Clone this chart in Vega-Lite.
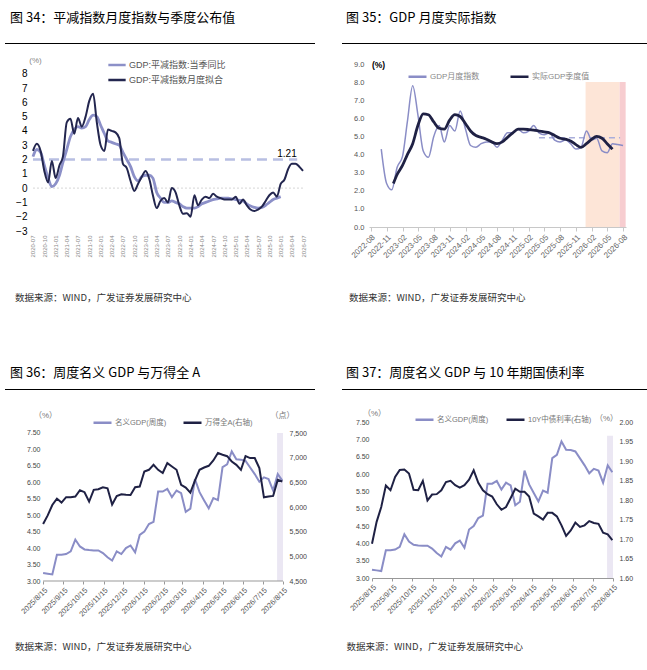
{
"$schema": "https://vega.github.io/schema/vega-lite/v6.json",
"background": "#ffffff",
"padding": {"left": 5, "top": 12, "right": 0, "bottom": 0},
"config": {
  "view": {"stroke": null},
  "font": "Liberation Sans, Noto Sans CJK SC",
  "axis": {"grid": false, "labelOverlap": false, "titleFontWeight": "normal", "labelFont": "Liberation Sans, Noto Sans CJK SC", "titleFont": "Liberation Sans, Noto Sans CJK SC"},
  "legend": {"labelFont": "Liberation Sans, Noto Sans CJK SC"},
  "title": {"font": "Noto Sans CJK SC", "fontWeight": "normal"}
},
"datasets": {
  "l34": [
    {"d":"2020-07-01","s":"GDP:平减指数:当季同比","v":2.2},{"d":"2020-08-01","s":"GDP:平减指数:当季同比","v":2.7},{"d":"2020-09-01","s":"GDP:平减指数:当季同比","v":2.5},{"d":"2020-10-01","s":"GDP:平减指数:当季同比","v":1.6},{"d":"2020-11-01","s":"GDP:平减指数:当季同比","v":0.7},{"d":"2020-12-01","s":"GDP:平减指数:当季同比","v":0.1},
    {"d":"2021-01-01","s":"GDP:平减指数:当季同比","v":0.3},{"d":"2021-02-01","s":"GDP:平减指数:当季同比","v":0.9},{"d":"2021-03-01","s":"GDP:平减指数:当季同比","v":1.8},{"d":"2021-04-01","s":"GDP:平减指数:当季同比","v":2.7},{"d":"2021-05-01","s":"GDP:平减指数:当季同比","v":3.6},{"d":"2021-06-01","s":"GDP:平减指数:当季同比","v":4.1},
    {"d":"2021-07-01","s":"GDP:平减指数:当季同比","v":4.3},{"d":"2021-08-01","s":"GDP:平减指数:当季同比","v":4.2},{"d":"2021-09-01","s":"GDP:平减指数:当季同比","v":4.3},{"d":"2021-10-01","s":"GDP:平减指数:当季同比","v":4.8},{"d":"2021-11-01","s":"GDP:平减指数:当季同比","v":5.1},{"d":"2021-12-01","s":"GDP:平减指数:当季同比","v":5.0},
    {"d":"2022-01-01","s":"GDP:平减指数:当季同比","v":4.4},{"d":"2022-02-01","s":"GDP:平减指数:当季同比","v":3.8},{"d":"2022-03-01","s":"GDP:平减指数:当季同比","v":3.3},{"d":"2022-04-01","s":"GDP:平减指数:当季同比","v":3.2},{"d":"2022-05-01","s":"GDP:平减指数:当季同比","v":3.1},{"d":"2022-06-01","s":"GDP:平减指数:当季同比","v":3.0},
    {"d":"2022-07-01","s":"GDP:平减指数:当季同比","v":2.5},{"d":"2022-08-01","s":"GDP:平减指数:当季同比","v":2.0},{"d":"2022-09-01","s":"GDP:平减指数:当季同比","v":1.5},{"d":"2022-10-01","s":"GDP:平减指数:当季同比","v":0.8},{"d":"2022-11-01","s":"GDP:平减指数:当季同比","v":0.5},{"d":"2022-12-01","s":"GDP:平减指数:当季同比","v":0.8},
    {"d":"2023-01-01","s":"GDP:平减指数:当季同比","v":0.9},{"d":"2023-02-01","s":"GDP:平减指数:当季同比","v":0.9},{"d":"2023-03-01","s":"GDP:平减指数:当季同比","v":0.7},{"d":"2023-04-01","s":"GDP:平减指数:当季同比","v":-0.3},{"d":"2023-05-01","s":"GDP:平减指数:当季同比","v":-0.7},{"d":"2023-06-01","s":"GDP:平减指数:当季同比","v":-1.0},
    {"d":"2023-07-01","s":"GDP:平减指数:当季同比","v":-1.0},{"d":"2023-08-01","s":"GDP:平减指数:当季同比","v":-0.9},{"d":"2023-09-01","s":"GDP:平减指数:当季同比","v":-1.0},{"d":"2023-10-01","s":"GDP:平减指数:当季同比","v":-1.1},{"d":"2023-11-01","s":"GDP:平减指数:当季同比","v":-1.3},{"d":"2023-12-01","s":"GDP:平减指数:当季同比","v":-1.4},
    {"d":"2024-01-01","s":"GDP:平减指数:当季同比","v":-1.4},{"d":"2024-02-01","s":"GDP:平减指数:当季同比","v":-1.4},{"d":"2024-03-01","s":"GDP:平减指数:当季同比","v":-1.3},{"d":"2024-04-01","s":"GDP:平减指数:当季同比","v":-1.1},{"d":"2024-05-01","s":"GDP:平减指数:当季同比","v":-1.0},{"d":"2024-06-01","s":"GDP:平减指数:当季同比","v":-0.9},
    {"d":"2024-07-01","s":"GDP:平减指数:当季同比","v":-0.8},{"d":"2024-08-01","s":"GDP:平减指数:当季同比","v":-0.75},{"d":"2024-09-01","s":"GDP:平减指数:当季同比","v":-0.7},{"d":"2024-10-01","s":"GDP:平减指数:当季同比","v":-0.7},{"d":"2024-11-01","s":"GDP:平减指数:当季同比","v":-0.7},{"d":"2024-12-01","s":"GDP:平减指数:当季同比","v":-0.75},
    {"d":"2025-01-01","s":"GDP:平减指数:当季同比","v":-0.8},{"d":"2025-02-01","s":"GDP:平减指数:当季同比","v":-0.85},{"d":"2025-03-01","s":"GDP:平减指数:当季同比","v":-0.9},{"d":"2025-04-01","s":"GDP:平减指数:当季同比","v":-1.1},{"d":"2025-05-01","s":"GDP:平减指数:当季同比","v":-1.25},{"d":"2025-06-01","s":"GDP:平减指数:当季同比","v":-1.35},
    {"d":"2025-07-01","s":"GDP:平减指数:当季同比","v":-1.4},{"d":"2025-08-01","s":"GDP:平减指数:当季同比","v":-1.35},{"d":"2025-09-01","s":"GDP:平减指数:当季同比","v":-1.2},{"d":"2025-10-01","s":"GDP:平减指数:当季同比","v":-1.0},{"d":"2025-11-01","s":"GDP:平减指数:当季同比","v":-0.8},{"d":"2025-12-01","s":"GDP:平减指数:当季同比","v":-0.7},
    {"d":"2026-01-01","s":"GDP:平减指数:当季同比","v":-0.6}
  ],
  "d34": [
    {"d":"2020-07-01","s":"GDP:平减指数月度拟合","v":2.6},{"d":"2020-08-01","s":"GDP:平减指数月度拟合","v":3.1},{"d":"2020-09-01","s":"GDP:平减指数月度拟合","v":2.6},{"d":"2020-10-01","s":"GDP:平减指数月度拟合","v":1.2},{"d":"2020-11-01","s":"GDP:平减指数月度拟合","v":0.4},{"d":"2020-12-01","s":"GDP:平减指数月度拟合","v":1.9},
    {"d":"2021-01-01","s":"GDP:平减指数月度拟合","v":0.7},{"d":"2021-02-01","s":"GDP:平减指数月度拟合","v":1.6},{"d":"2021-03-01","s":"GDP:平减指数月度拟合","v":2.2},{"d":"2021-04-01","s":"GDP:平减指数月度拟合","v":4.6},{"d":"2021-05-01","s":"GDP:平减指数月度拟合","v":4.85},{"d":"2021-06-01","s":"GDP:平减指数月度拟合","v":3.8},
    {"d":"2021-07-01","s":"GDP:平减指数月度拟合","v":4.9},{"d":"2021-08-01","s":"GDP:平减指数月度拟合","v":4.3},{"d":"2021-09-01","s":"GDP:平减指数月度拟合","v":5.0},{"d":"2021-10-01","s":"GDP:平减指数月度拟合","v":6.1},{"d":"2021-11-01","s":"GDP:平减指数月度拟合","v":6.6},{"d":"2021-12-01","s":"GDP:平减指数月度拟合","v":4.6},
    {"d":"2022-01-01","s":"GDP:平减指数月度拟合","v":3.0},{"d":"2022-02-01","s":"GDP:平减指数月度拟合","v":2.6},{"d":"2022-03-01","s":"GDP:平减指数月度拟合","v":4.1},{"d":"2022-04-01","s":"GDP:平减指数月度拟合","v":4.0},{"d":"2022-05-01","s":"GDP:平减指数月度拟合","v":3.9},{"d":"2022-06-01","s":"GDP:平减指数月度拟合","v":3.5},
    {"d":"2022-07-01","s":"GDP:平减指数月度拟合","v":1.7},{"d":"2022-08-01","s":"GDP:平减指数月度拟合","v":1.4},{"d":"2022-09-01","s":"GDP:平减指数月度拟合","v":0.5},{"d":"2022-10-01","s":"GDP:平减指数月度拟合","v":-0.2},{"d":"2022-11-01","s":"GDP:平减指数月度拟合","v":0.3},{"d":"2022-12-01","s":"GDP:平减指数月度拟合","v":0.8},
    {"d":"2023-01-01","s":"GDP:平减指数月度拟合","v":1.2},{"d":"2023-02-01","s":"GDP:平减指数月度拟合","v":0.6},{"d":"2023-03-01","s":"GDP:平减指数月度拟合","v":-0.5},{"d":"2023-04-01","s":"GDP:平减指数月度拟合","v":-1.4},{"d":"2023-05-01","s":"GDP:平减指数月度拟合","v":-0.9},{"d":"2023-06-01","s":"GDP:平减指数月度拟合","v":-0.7},
    {"d":"2023-07-01","s":"GDP:平减指数月度拟合","v":-1.0},{"d":"2023-08-01","s":"GDP:平减指数月度拟合","v":0.0},{"d":"2023-09-01","s":"GDP:平减指数月度拟合","v":-0.3},{"d":"2023-10-01","s":"GDP:平减指数月度拟合","v":-1.2},{"d":"2023-11-01","s":"GDP:平减指数月度拟合","v":-1.8},{"d":"2023-12-01","s":"GDP:平减指数月度拟合","v":-1.75},
    {"d":"2024-01-01","s":"GDP:平减指数月度拟合","v":-2.0},{"d":"2024-02-01","s":"GDP:平减指数月度拟合","v":-0.5},{"d":"2024-03-01","s":"GDP:平减指数月度拟合","v":-1.2},{"d":"2024-04-01","s":"GDP:平减指数月度拟合","v":-0.8},{"d":"2024-05-01","s":"GDP:平减指数月度拟合","v":-0.6},{"d":"2024-06-01","s":"GDP:平减指数月度拟合","v":-0.7},
    {"d":"2024-07-01","s":"GDP:平减指数月度拟合","v":-0.4},{"d":"2024-08-01","s":"GDP:平减指数月度拟合","v":-0.6},{"d":"2024-09-01","s":"GDP:平减指数月度拟合","v":-0.7},{"d":"2024-10-01","s":"GDP:平减指数月度拟合","v":-0.8},{"d":"2024-11-01","s":"GDP:平减指数月度拟合","v":-0.8},{"d":"2024-12-01","s":"GDP:平减指数月度拟合","v":-0.8},
    {"d":"2025-01-01","s":"GDP:平减指数月度拟合","v":-0.6},{"d":"2025-02-01","s":"GDP:平减指数月度拟合","v":-1.1},{"d":"2025-03-01","s":"GDP:平减指数月度拟合","v":-0.8},{"d":"2025-04-01","s":"GDP:平减指数月度拟合","v":-1.2},{"d":"2025-05-01","s":"GDP:平减指数月度拟合","v":-1.5},{"d":"2025-06-01","s":"GDP:平减指数月度拟合","v":-1.6},
    {"d":"2025-07-01","s":"GDP:平减指数月度拟合","v":-1.5},{"d":"2025-08-01","s":"GDP:平减指数月度拟合","v":-1.3},{"d":"2025-09-01","s":"GDP:平减指数月度拟合","v":-0.9},{"d":"2025-10-01","s":"GDP:平减指数月度拟合","v":-0.5},{"d":"2025-11-01","s":"GDP:平减指数月度拟合","v":-0.3},{"d":"2025-12-01","s":"GDP:平减指数月度拟合","v":-0.6},
    {"d":"2026-01-01","s":"GDP:平减指数月度拟合","v":0.3},{"d":"2026-02-01","s":"GDP:平减指数月度拟合","v":0.6},{"d":"2026-03-01","s":"GDP:平减指数月度拟合","v":1.3},{"d":"2026-04-01","s":"GDP:平减指数月度拟合","v":1.7},{"d":"2026-05-01","s":"GDP:平减指数月度拟合","v":1.7},{"d":"2026-06-01","s":"GDP:平减指数月度拟合","v":1.5},
    {"d":"2026-07-01","s":"GDP:平减指数月度拟合","v":1.21}
  ],
  "l35": [
    {"d":"2022-10-01","s":"GDP月度指数","v":4.3},{"d":"2022-11-01","s":"GDP月度指数","v":2.4},{"d":"2022-12-01","s":"GDP月度指数","v":2.05},
    {"d":"2023-01-01","s":"GDP月度指数","v":3.3},{"d":"2023-02-01","s":"GDP月度指数","v":3.9},{"d":"2023-03-01","s":"GDP月度指数","v":5.8},{"d":"2023-04-01","s":"GDP月度指数","v":7.8},{"d":"2023-05-01","s":"GDP月度指数","v":6.2},{"d":"2023-06-01","s":"GDP月度指数","v":4.2},
    {"d":"2023-07-01","s":"GDP月度指数","v":3.85},{"d":"2023-08-01","s":"GDP月度指数","v":5.0},{"d":"2023-09-01","s":"GDP月度指数","v":5.6},{"d":"2023-10-01","s":"GDP月度指数","v":4.7},{"d":"2023-11-01","s":"GDP月度指数","v":5.6},{"d":"2023-12-01","s":"GDP月度指数","v":5.3},
    {"d":"2024-01-01","s":"GDP月度指数","v":6.4},{"d":"2024-02-01","s":"GDP月度指数","v":5.4},{"d":"2024-03-01","s":"GDP月度指数","v":4.5},{"d":"2024-04-01","s":"GDP月度指数","v":4.4},{"d":"2024-05-01","s":"GDP月度指数","v":4.6},{"d":"2024-06-01","s":"GDP月度指数","v":4.7},
    {"d":"2024-07-01","s":"GDP月度指数","v":4.7},{"d":"2024-08-01","s":"GDP月度指数","v":4.4},{"d":"2024-09-01","s":"GDP月度指数","v":4.8},{"d":"2024-10-01","s":"GDP月度指数","v":5.2},{"d":"2024-11-01","s":"GDP月度指数","v":5.2},{"d":"2024-12-01","s":"GDP月度指数","v":5.4},
    {"d":"2025-01-01","s":"GDP月度指数","v":5.2},{"d":"2025-02-01","s":"GDP月度指数","v":5.3},{"d":"2025-03-01","s":"GDP月度指数","v":5.6},{"d":"2025-04-01","s":"GDP月度指数","v":5.2},{"d":"2025-05-01","s":"GDP月度指数","v":5.1},{"d":"2025-06-01","s":"GDP月度指数","v":5.2},
    {"d":"2025-07-01","s":"GDP月度指数","v":4.8},{"d":"2025-08-01","s":"GDP月度指数","v":4.7},{"d":"2025-09-01","s":"GDP月度指数","v":4.8},{"d":"2025-10-01","s":"GDP月度指数","v":4.6},{"d":"2025-11-01","s":"GDP月度指数","v":4.3},{"d":"2025-12-01","s":"GDP月度指数","v":4.4},
    {"d":"2026-01-01","s":"GDP月度指数","v":5.3},{"d":"2026-02-01","s":"GDP月度指数","v":4.8},{"d":"2026-03-01","s":"GDP月度指数","v":4.9},{"d":"2026-04-01","s":"GDP月度指数","v":4.2},{"d":"2026-05-01","s":"GDP月度指数","v":4.1},{"d":"2026-06-01","s":"GDP月度指数","v":4.6},
    {"d":"2026-07-01","s":"GDP月度指数","v":4.55},{"d":"2026-08-01","s":"GDP月度指数","v":4.5}
  ],
  "d35": [
    {"d":"2022-12-10","s":"实际GDP季度值","v":2.4},
    {"d":"2023-01-01","s":"实际GDP季度值","v":2.9},{"d":"2023-02-01","s":"实际GDP季度值","v":3.4},{"d":"2023-03-01","s":"实际GDP季度值","v":4.0},{"d":"2023-04-01","s":"实际GDP季度值","v":4.6},{"d":"2023-05-01","s":"实际GDP季度值","v":5.6},{"d":"2023-06-01","s":"实际GDP季度值","v":6.25},
    {"d":"2023-07-01","s":"实际GDP季度值","v":6.2},{"d":"2023-08-01","s":"实际GDP季度值","v":5.8},{"d":"2023-09-01","s":"实际GDP季度值","v":5.45},{"d":"2023-10-01","s":"实际GDP季度值","v":5.4},{"d":"2023-11-01","s":"实际GDP季度值","v":5.9},{"d":"2023-12-01","s":"实际GDP季度值","v":6.2},
    {"d":"2024-01-01","s":"实际GDP季度值","v":6.1},{"d":"2024-02-01","s":"实际GDP季度值","v":5.7},{"d":"2024-03-01","s":"实际GDP季度值","v":5.3},{"d":"2024-04-01","s":"实际GDP季度值","v":5.05},{"d":"2024-05-01","s":"实际GDP季度值","v":4.95},{"d":"2024-06-01","s":"实际GDP季度值","v":4.85},
    {"d":"2024-07-01","s":"实际GDP季度值","v":4.7},{"d":"2024-08-01","s":"实际GDP季度值","v":4.6},{"d":"2024-09-01","s":"实际GDP季度值","v":4.7},{"d":"2024-10-01","s":"实际GDP季度值","v":4.95},{"d":"2024-11-01","s":"实际GDP季度值","v":5.2},{"d":"2024-12-01","s":"实际GDP季度值","v":5.4},
    {"d":"2025-01-01","s":"实际GDP季度值","v":5.4},{"d":"2025-02-01","s":"实际GDP季度值","v":5.38},{"d":"2025-03-01","s":"实际GDP季度值","v":5.35},{"d":"2025-04-01","s":"实际GDP季度值","v":5.3},{"d":"2025-05-01","s":"实际GDP季度值","v":5.25},{"d":"2025-06-01","s":"实际GDP季度值","v":5.2},
    {"d":"2025-07-01","s":"实际GDP季度值","v":5.05},{"d":"2025-08-01","s":"实际GDP季度值","v":4.9},{"d":"2025-09-01","s":"实际GDP季度值","v":4.85},{"d":"2025-10-01","s":"实际GDP季度值","v":4.75},{"d":"2025-11-01","s":"实际GDP季度值","v":4.55},{"d":"2025-12-01","s":"实际GDP季度值","v":4.4},
    {"d":"2026-01-01","s":"实际GDP季度值","v":4.6},{"d":"2026-02-01","s":"实际GDP季度值","v":4.85},{"d":"2026-03-01","s":"实际GDP季度值","v":5.0},{"d":"2026-04-01","s":"实际GDP季度值","v":4.9},{"d":"2026-05-01","s":"实际GDP季度值","v":4.6},{"d":"2026-06-01","s":"实际GDP季度值","v":4.3}
  ],
  "gdpw": [
    {"d":"2025-08-15","s":"名义GDP(周度)","v":3.24},{"d":"2025-08-22","s":"名义GDP(周度)","v":3.22},{"d":"2025-08-29","s":"名义GDP(周度)","v":3.2},{"d":"2025-09-05","s":"名义GDP(周度)","v":3.8},{"d":"2025-09-12","s":"名义GDP(周度)","v":3.8},{"d":"2025-09-19","s":"名义GDP(周度)","v":3.82},
    {"d":"2025-09-26","s":"名义GDP(周度)","v":3.9},{"d":"2025-10-03","s":"名义GDP(周度)","v":4.26},{"d":"2025-10-10","s":"名义GDP(周度)","v":4.05},{"d":"2025-10-17","s":"名义GDP(周度)","v":3.96},{"d":"2025-10-24","s":"名义GDP(周度)","v":3.94},{"d":"2025-10-31","s":"名义GDP(周度)","v":3.93},
    {"d":"2025-11-07","s":"名义GDP(周度)","v":3.93},{"d":"2025-11-14","s":"名义GDP(周度)","v":3.85},{"d":"2025-11-21","s":"名义GDP(周度)","v":3.72},{"d":"2025-11-28","s":"名义GDP(周度)","v":3.62},{"d":"2025-12-05","s":"名义GDP(周度)","v":3.9},{"d":"2025-12-12","s":"名义GDP(周度)","v":3.82},
    {"d":"2025-12-19","s":"名义GDP(周度)","v":4.0},{"d":"2025-12-26","s":"名义GDP(周度)","v":4.08},{"d":"2026-01-02","s":"名义GDP(周度)","v":3.87},{"d":"2026-01-09","s":"名义GDP(周度)","v":4.4},{"d":"2026-01-16","s":"名义GDP(周度)","v":4.5},{"d":"2026-01-23","s":"名义GDP(周度)","v":4.73},
    {"d":"2026-01-30","s":"名义GDP(周度)","v":4.8},{"d":"2026-02-06","s":"名义GDP(周度)","v":5.72},{"d":"2026-02-13","s":"名义GDP(周度)","v":5.72},{"d":"2026-02-20","s":"名义GDP(周度)","v":5.8},{"d":"2026-02-27","s":"名义GDP(周度)","v":5.55},{"d":"2026-03-06","s":"名义GDP(周度)","v":5.75},
    {"d":"2026-03-13","s":"名义GDP(周度)","v":5.67},{"d":"2026-03-20","s":"名义GDP(周度)","v":5.1},{"d":"2026-03-27","s":"名义GDP(周度)","v":5.2},{"d":"2026-04-03","s":"名义GDP(周度)","v":6.1},{"d":"2026-04-10","s":"名义GDP(周度)","v":5.7},{"d":"2026-04-17","s":"名义GDP(周度)","v":5.45},
    {"d":"2026-04-24","s":"名义GDP(周度)","v":5.21},{"d":"2026-05-01","s":"名义GDP(周度)","v":5.52},{"d":"2026-05-08","s":"名义GDP(周度)","v":5.46},{"d":"2026-05-15","s":"名义GDP(周度)","v":6.46},{"d":"2026-05-22","s":"名义GDP(周度)","v":6.55},{"d":"2026-05-29","s":"名义GDP(周度)","v":6.94},
    {"d":"2026-06-05","s":"名义GDP(周度)","v":6.7},{"d":"2026-06-12","s":"名义GDP(周度)","v":6.69},{"d":"2026-06-19","s":"名义GDP(周度)","v":6.65},{"d":"2026-06-26","s":"名义GDP(周度)","v":6.45},{"d":"2026-07-03","s":"名义GDP(周度)","v":6.25},{"d":"2026-07-10","s":"名义GDP(周度)","v":6.02},
    {"d":"2026-07-17","s":"名义GDP(周度)","v":6.15},{"d":"2026-07-24","s":"名义GDP(周度)","v":6.1},{"d":"2026-07-31","s":"名义GDP(周度)","v":5.75},{"d":"2026-08-07","s":"名义GDP(周度)","v":6.25},{"d":"2026-08-14","s":"名义GDP(周度)","v":6.05}
  ],
  "wind": [
    {"d":"2025-08-15","s":"万得全A(右轴)","v":5654},{"d":"2025-08-22","s":"万得全A(右轴)","v":5830},{"d":"2025-08-29","s":"万得全A(右轴)","v":6041},{"d":"2025-09-05","s":"万得全A(右轴)","v":6170},{"d":"2025-09-12","s":"万得全A(右轴)","v":6090},{"d":"2025-09-19","s":"万得全A(右轴)","v":6200},
    {"d":"2025-09-26","s":"万得全A(右轴)","v":6200},{"d":"2025-10-03","s":"万得全A(右轴)","v":6211},{"d":"2025-10-10","s":"万得全A(右轴)","v":6340},{"d":"2025-10-17","s":"万得全A(右轴)","v":6300},{"d":"2025-10-24","s":"万得全A(右轴)","v":6110},{"d":"2025-10-31","s":"万得全A(右轴)","v":6347},
    {"d":"2025-11-07","s":"万得全A(右轴)","v":6360},{"d":"2025-11-14","s":"万得全A(右轴)","v":6400},{"d":"2025-11-21","s":"万得全A(右轴)","v":6380},{"d":"2025-11-28","s":"万得全A(右轴)","v":6050},{"d":"2025-12-05","s":"万得全A(右轴)","v":6224},{"d":"2025-12-12","s":"万得全A(右轴)","v":6258},
    {"d":"2025-12-19","s":"万得全A(右轴)","v":6250},{"d":"2025-12-26","s":"万得全A(右轴)","v":6245},{"d":"2026-01-02","s":"万得全A(右轴)","v":6401},{"d":"2026-01-09","s":"万得全A(右轴)","v":6414},{"d":"2026-01-16","s":"万得全A(右轴)","v":6720},{"d":"2026-01-23","s":"万得全A(右轴)","v":6754},
    {"d":"2026-01-30","s":"万得全A(右轴)","v":6855},{"d":"2026-02-06","s":"万得全A(右轴)","v":6754},{"d":"2026-02-13","s":"万得全A(右轴)","v":6690},{"d":"2026-02-20","s":"万得全A(右轴)","v":6889},{"d":"2026-02-27","s":"万得全A(右轴)","v":6821},{"d":"2026-03-06","s":"万得全A(右轴)","v":6754},
    {"d":"2026-03-13","s":"万得全A(右轴)","v":6448},{"d":"2026-03-20","s":"万得全A(右轴)","v":6394},{"d":"2026-03-27","s":"万得全A(右轴)","v":6292},{"d":"2026-04-03","s":"万得全A(右轴)","v":6536},{"d":"2026-04-10","s":"万得全A(右轴)","v":6754},{"d":"2026-04-17","s":"万得全A(右轴)","v":6801},
    {"d":"2026-04-24","s":"万得全A(右轴)","v":6835},{"d":"2026-05-01","s":"万得全A(右轴)","v":6944},{"d":"2026-05-08","s":"万得全A(右轴)","v":7093},{"d":"2026-05-15","s":"万得全A(右轴)","v":7059},{"d":"2026-05-22","s":"万得全A(右轴)","v":7030},{"d":"2026-05-29","s":"万得全A(右轴)","v":6923},
    {"d":"2026-06-05","s":"万得全A(右轴)","v":6855},{"d":"2026-06-12","s":"万得全A(右轴)","v":6754},{"d":"2026-06-19","s":"万得全A(右轴)","v":7030},{"d":"2026-06-26","s":"万得全A(右轴)","v":6991},{"d":"2026-07-03","s":"万得全A(右轴)","v":6991},{"d":"2026-07-10","s":"万得全A(右轴)","v":6788},
    {"d":"2026-07-17","s":"万得全A(右轴)","v":6197},{"d":"2026-07-24","s":"万得全A(右轴)","v":6211},{"d":"2026-07-31","s":"万得全A(右轴)","v":6224},{"d":"2026-08-07","s":"万得全A(右轴)","v":6550},{"d":"2026-08-14","s":"万得全A(右轴)","v":6516}
  ],
  "bond": [
    {"d":"2025-08-15","s":"10Y中债利率(右轴)","v":1.688},{"d":"2025-08-22","s":"10Y中债利率(右轴)","v":1.744},{"d":"2025-08-29","s":"10Y中债利率(右轴)","v":1.782},{"d":"2025-09-05","s":"10Y中债利率(右轴)","v":1.837},{"d":"2025-09-12","s":"10Y中债利率(右轴)","v":1.825},{"d":"2025-09-19","s":"10Y中债利率(右轴)","v":1.859},
    {"d":"2025-09-26","s":"10Y中债利率(右轴)","v":1.877},{"d":"2025-10-03","s":"10Y中债利率(右轴)","v":1.878},{"d":"2025-10-10","s":"10Y中债利率(右轴)","v":1.868},{"d":"2025-10-17","s":"10Y中债利率(右轴)","v":1.826},{"d":"2025-10-24","s":"10Y中债利率(右轴)","v":1.825},{"d":"2025-10-31","s":"10Y中债利率(右轴)","v":1.849},
    {"d":"2025-11-07","s":"10Y中债利率(右轴)","v":1.799},{"d":"2025-11-14","s":"10Y中债利率(右轴)","v":1.814},{"d":"2025-11-21","s":"10Y中债利率(右轴)","v":1.815},{"d":"2025-11-28","s":"10Y中债利率(右轴)","v":1.825},{"d":"2025-12-05","s":"10Y中债利率(右轴)","v":1.846},{"d":"2025-12-12","s":"10Y中债利率(右轴)","v":1.849},
    {"d":"2025-12-19","s":"10Y中债利率(右轴)","v":1.838},{"d":"2025-12-26","s":"10Y中债利率(右轴)","v":1.832},{"d":"2026-01-02","s":"10Y中债利率(右轴)","v":1.838},{"d":"2026-01-09","s":"10Y中债利率(右轴)","v":1.852},{"d":"2026-01-16","s":"10Y中债利率(右轴)","v":1.876},{"d":"2026-01-23","s":"10Y中债利率(右轴)","v":1.844},
    {"d":"2026-01-30","s":"10Y中债利率(右轴)","v":1.825},{"d":"2026-02-06","s":"10Y中债利率(右轴)","v":1.815},{"d":"2026-02-13","s":"10Y中债利率(右轴)","v":1.809},{"d":"2026-02-20","s":"10Y中债利率(右轴)","v":1.789},{"d":"2026-02-27","s":"10Y中债利率(右轴)","v":1.775},{"d":"2026-03-06","s":"10Y中债利率(右轴)","v":1.782},
    {"d":"2026-03-13","s":"10Y中债利率(右轴)","v":1.805},{"d":"2026-03-20","s":"10Y中债利率(右轴)","v":1.829},{"d":"2026-03-27","s":"10Y中债利率(右轴)","v":1.821},{"d":"2026-04-03","s":"10Y中债利率(右轴)","v":1.821},{"d":"2026-04-10","s":"10Y中债利率(右轴)","v":1.809},{"d":"2026-04-17","s":"10Y中债利率(右轴)","v":1.765},
    {"d":"2026-04-24","s":"10Y中债利率(右轴)","v":1.758},{"d":"2026-05-01","s":"10Y中债利率(右轴)","v":1.750},{"d":"2026-05-08","s":"10Y中债利率(右轴)","v":1.767},{"d":"2026-05-15","s":"10Y中债利率(右轴)","v":1.767},{"d":"2026-05-22","s":"10Y中债利率(右轴)","v":1.758},{"d":"2026-05-29","s":"10Y中债利率(右轴)","v":1.735},
    {"d":"2026-06-05","s":"10Y中债利率(右轴)","v":1.708},{"d":"2026-06-12","s":"10Y中债利率(右轴)","v":1.722},{"d":"2026-06-19","s":"10Y中债利率(右轴)","v":1.742},{"d":"2026-06-26","s":"10Y中债利率(右轴)","v":1.731},{"d":"2026-07-03","s":"10Y中债利率(右轴)","v":1.735},{"d":"2026-07-10","s":"10Y中债利率(右轴)","v":1.746},
    {"d":"2026-07-17","s":"10Y中债利率(右轴)","v":1.741},{"d":"2026-07-24","s":"10Y中债利率(右轴)","v":1.739},{"d":"2026-07-31","s":"10Y中债利率(右轴)","v":1.716},{"d":"2026-08-07","s":"10Y中债利率(右轴)","v":1.712},{"d":"2026-08-14","s":"10Y中债利率(右轴)","v":1.697}
  ]
},
"spacing": 64,
"resolve": {"scale": {"color": "independent"}, "legend": {"color": "independent"}},
"vconcat": [
 {"spacing": 11, "resolve": {"scale": {"color": "independent"}, "legend": {"color": "independent"}}, "vconcat": [
  {"spacing": 27, "hconcat": [
    {"width": 310, "height": 1, "data": {"values": []}, "mark": "point", "view": {"fill": "#000000", "stroke": null},
     "title": {"text": "图 34：平减指数月度指数与季度公布值", "anchor": "start", "frame": "group", "dx": 5, "offset": 18, "fontSize": 13, "color": "#000000"}},
    {"width": 305, "height": 1, "data": {"values": []}, "mark": "point", "view": {"fill": "#000000", "stroke": null},
     "title": {"text": "图 35：GDP 月度实际指数", "anchor": "start", "frame": "group", "dx": 4, "offset": 18, "fontSize": 13, "color": "#000000"}}
  ]},
  {"spacing": 41, "resolve": {"scale": {"color": "independent"}, "legend": {"color": "independent"}}, "hconcat": [
    {"width": 298, "height": 167,
     "title": {"text": "数据来源：WIND，广发证券发展研究中心", "orient": "bottom", "anchor": "start", "frame": "group", "offset": 36, "dx": 10, "fontSize": 9.5, "color": "#333333", "font": "Noto Sans CJK SC"},
     "encoding": {
       "x": {"field": "d", "type": "temporal", "scale": {"type": "utc", "domain": [{"year": 2019, "month": 11, "date": 17, "utc": true}, {"year": 2026, "month": 7, "date": 1, "utc": true}]},
         "axis": {"values": [
           {"year":2020,"month":7,"date":1,"utc":true},{"year":2020,"month":10,"date":1,"utc":true},
           {"year":2021,"month":1,"date":1,"utc":true},{"year":2021,"month":4,"date":1,"utc":true},{"year":2021,"month":7,"date":1,"utc":true},{"year":2021,"month":10,"date":1,"utc":true},
           {"year":2022,"month":1,"date":1,"utc":true},{"year":2022,"month":4,"date":1,"utc":true},{"year":2022,"month":7,"date":1,"utc":true},{"year":2022,"month":10,"date":1,"utc":true},
           {"year":2023,"month":1,"date":1,"utc":true},{"year":2023,"month":4,"date":1,"utc":true},{"year":2023,"month":7,"date":1,"utc":true},{"year":2023,"month":10,"date":1,"utc":true},
           {"year":2024,"month":1,"date":1,"utc":true},{"year":2024,"month":4,"date":1,"utc":true},{"year":2024,"month":7,"date":1,"utc":true},{"year":2024,"month":10,"date":1,"utc":true},
           {"year":2025,"month":1,"date":1,"utc":true},{"year":2025,"month":4,"date":1,"utc":true},{"year":2025,"month":7,"date":1,"utc":true},{"year":2025,"month":10,"date":1,"utc":true},
           {"year":2026,"month":1,"date":1,"utc":true},{"year":2026,"month":4,"date":1,"utc":true},{"year":2026,"month":7,"date":1,"utc":true}],
           "format": "%Y-%m", "labelAngle": -90, "labelFontSize": 6, "labelColor": "#888888", "domain": false, "ticks": false, "labelPadding": 4, "title": null, "labelOverlap": false}},
       "y": {"field": "v", "type": "quantitative", "scale": {"domain": [-3, 8.68], "nice": false, "zero": false},
         "axis": {"values": [-3,-2,-1,0,1,2,3,4,5,6,7,8], "format": "d", "offset": -28, "labelFontSize": 10, "labelColor": "#000000", "domain": false, "ticks": false, "labelPadding": 6, "labelOverlap": false,
                  "title": "(%)", "titleAngle": 0, "titleX": 2, "titleY": -4, "titleAlign": "center", "titleBaseline": "middle", "titleFontSize": 8, "titleColor": "#888888"}}
     },
     "layer": [
      {"data": {"values": [{"d": "2020-07-01", "v": 0}, {"d": "2026-07-01", "v": 0}]}, "mark": {"type": "line", "color": "#d6d6d6", "strokeWidth": 1, "strokeDash": [2, 2]}},
      {"data": {"values": [{"d": "2020-07-01", "v": 2}, {"d": "2026-05-15", "v": 2}]}, "mark": {"type": "line", "color": "#b8bfe2", "strokeWidth": 2.5, "strokeDash": [10, 6]}},
      {"data": {"name": "l34"}, "mark": {"type": "line", "strokeWidth": 2.8, "interpolate": "monotone"},
       "encoding": {
         "color": {"field": "s", "type": "nominal", "scale": {"domain": ["GDP:平减指数:当季同比", "GDP:平减指数月度拟合"], "range": ["#8c90c8", "#23264f"]},
           "legend": {"orient": "none", "legendX": 102, "legendY": -9, "direction": "vertical", "title": null, "symbolType": "stroke", "symbolStrokeWidth": 2.5, "symbolSize": 300, "labelFontSize": 9, "labelColor": "#555555", "rowPadding": 0, "labelOffset": 2}}}},
      {"data": {"name": "d34"}, "mark": {"type": "line", "strokeWidth": 2, "interpolate": "monotone"},
       "encoding": {"color": {"field": "s", "type": "nominal"}}},
      {"data": {"values": [{"d": "2026-07-01", "v": 1.21, "t": "1.21"}]}, "mark": {"type": "text", "dx": -16, "dy": -17, "fontSize": 10, "color": "#000000"},
       "encoding": {"text": {"field": "t"}}}
     ]},
    {"width": 257, "height": 163,
     "title": {"text": "数据来源：WIND，广发证券发展研究中心", "orient": "bottom", "anchor": "start", "frame": "bounds", "offset": 34, "dx": -1, "fontSize": 9.5, "color": "#333333", "font": "Noto Sans CJK SC"},
     "encoding": {
       "x": {"field": "d", "type": "temporal", "scale": {"type": "utc", "domain": [{"year": 2022, "month": 7, "date": 22, "utc": true}, {"year": 2026, "month": 8, "date": 18, "utc": true}]},
         "axis": {"values": [
           {"year":2022,"month":8,"date":1,"utc":true},{"year":2022,"month":11,"date":1,"utc":true},
           {"year":2023,"month":2,"date":1,"utc":true},{"year":2023,"month":5,"date":1,"utc":true},{"year":2023,"month":8,"date":1,"utc":true},{"year":2023,"month":11,"date":1,"utc":true},
           {"year":2024,"month":2,"date":1,"utc":true},{"year":2024,"month":5,"date":1,"utc":true},{"year":2024,"month":8,"date":1,"utc":true},{"year":2024,"month":11,"date":1,"utc":true},
           {"year":2025,"month":2,"date":1,"utc":true},{"year":2025,"month":5,"date":1,"utc":true},{"year":2025,"month":8,"date":1,"utc":true},{"year":2025,"month":11,"date":1,"utc":true},
           {"year":2026,"month":2,"date":1,"utc":true},{"year":2026,"month":5,"date":1,"utc":true},{"year":2026,"month":8,"date":1,"utc":true}],
           "format": "%Y-%m", "labelAngle": -45, "labelFontSize": 8, "labelColor": "#666666", "domainColor": "#c8c8c8", "tickColor": "#c8c8c8", "tickSize": 4, "title": null, "labelOverlap": false}},
       "y": {"field": "v", "type": "quantitative", "scale": {"domain": [0, 9], "nice": false},
         "axis": {"values": [0,1,2,3,4,5,6,7,8,9], "format": ".1f", "labelFontSize": 7.5, "labelColor": "#555555", "domain": false, "ticks": false, "labelPadding": 5, "labelOverlap": false,
                  "title": "(%)", "titleAngle": 0, "titleX": 9, "titleY": 0, "titleAlign": "center", "titleBaseline": "middle", "titleFontSize": 8.5, "titleColor": "#000000", "titleFontWeight": "bold"}}
     },
     "layer": [
      {"data": {"values": [{"d": "2025-12-27", "d2": "2026-07-12", "v": 0, "v2": 8}]}, "mark": {"type": "rect", "color": "#fde5d7"},
       "encoding": {"x2": {"field": "d2"}, "y2": {"field": "v2"}}},
      {"data": {"values": [{"d": "2026-07-12", "d2": "2026-08-16", "v": 0, "v2": 8}]}, "mark": {"type": "rect", "color": "#f7cdd0"},
       "encoding": {"x2": {"field": "d2"}, "y2": {"field": "v2"}}},
      {"data": {"values": [{"d": "2025-04-01", "v": 4.93}, {"d": "2026-07-15", "v": 4.93}]}, "mark": {"type": "line", "color": "#a9aedb", "strokeWidth": 1.5, "strokeDash": [6, 4]}},
      {"data": {"name": "l35"}, "mark": {"type": "line", "strokeWidth": 1.5, "interpolate": "monotone"},
       "encoding": {
         "color": {"field": "s", "type": "nominal", "scale": {"domain": ["GDP月度指数", "实际GDP季度值"], "range": ["#8a8dc6", "#1f2144"]},
           "legend": {"orient": "none", "legendX": 38, "legendY": 2, "direction": "horizontal", "title": null, "symbolType": "stroke", "symbolStrokeWidth": 2.5, "symbolSize": 324, "labelFontSize": 8, "labelColor": "#888888", "columnPadding": 25, "labelOffset": 2}}}},
      {"data": {"name": "d35"}, "mark": {"type": "line", "strokeWidth": 2.8, "interpolate": "monotone"},
       "encoding": {"color": {"field": "s", "type": "nominal"}}}
     ]}
  ]}
 ]},
 {"spacing": 19, "resolve": {"scale": {"color": "independent"}, "legend": {"color": "independent"}}, "vconcat": [
  {"spacing": 27, "hconcat": [
    {"width": 310, "height": 1, "data": {"values": []}, "mark": "point", "view": {"fill": "#000000", "stroke": null},
     "title": {"text": "图 36：周度名义 GDP 与万得全 A", "anchor": "start", "frame": "group", "dx": 5, "offset": 9, "fontSize": 13, "color": "#000000"}},
    {"width": 305, "height": 1, "data": {"values": []}, "mark": "point", "view": {"fill": "#000000", "stroke": null},
     "title": {"text": "图 37：周度名义 GDP 与 10 年期国债利率", "anchor": "start", "frame": "group", "dx": 4, "offset": 9, "fontSize": 13, "color": "#000000"}}
  ]},
  {"spacing": 39, "resolve": {"scale": {"color": "independent"}, "legend": {"color": "independent"}}, "hconcat": [
    {"width": 278, "height": 159,
     "title": {"text": "数据来源：WIND，广发证券发展研究中心", "orient": "bottom", "anchor": "start", "frame": "group", "offset": 24, "dx": 10, "fontSize": 9.5, "color": "#333333", "font": "Noto Sans CJK SC"},
     "resolve": {"scale": {"y": "independent"}},
     "encoding": {
       "x": {"field": "d", "type": "temporal", "scale": {"type": "utc", "domain": [{"year": 2025, "month": 6, "date": 18, "utc": true}, {"year": 2026, "month": 8, "date": 15, "utc": true}]},
         "axis": {"values": [
           {"year":2025,"month":8,"date":15,"utc":true},{"year":2025,"month":9,"date":15,"utc":true},{"year":2025,"month":10,"date":15,"utc":true},{"year":2025,"month":11,"date":15,"utc":true},{"year":2025,"month":12,"date":15,"utc":true},
           {"year":2026,"month":1,"date":15,"utc":true},{"year":2026,"month":2,"date":15,"utc":true},{"year":2026,"month":3,"date":15,"utc":true},{"year":2026,"month":4,"date":15,"utc":true},{"year":2026,"month":5,"date":15,"utc":true},
           {"year":2026,"month":6,"date":15,"utc":true},{"year":2026,"month":7,"date":15,"utc":true},{"year":2026,"month":8,"date":15,"utc":true}],
           "format": "%Y/%-m/%-d", "labelAngle": -45, "labelFontSize": 7.5, "labelColor": "#555555", "domain": false, "tickColor": "#999999", "tickSize": 3, "title": null, "labelOverlap": false}}
     },
     "layer": [
      {"data": {"values": [{"d": "2026-08-06", "d2": "2026-08-15", "v": 3, "v2": 7.5}]}, "mark": {"type": "rect", "color": "#ebe7f3"},
       "encoding": {"x2": {"field": "d2"}, "y": {"field": "v", "type": "quantitative", "scale": {"domain": [3, 7.834], "nice": false, "zero": false}, "axis": null}, "y2": {"field": "v2"}}},
      {"data": {"values": [{"d": "2025-08-15", "v": 3}, {"d": "2026-08-15", "v": 3}]}, "mark": {"type": "line", "color": "#999999", "strokeWidth": 1},
       "encoding": {"y": {"field": "v", "type": "quantitative", "scale": {"domain": [3, 7.834], "nice": false, "zero": false}, "axis": null}}},
      {"data": {"name": "gdpw"}, "mark": {"type": "line", "strokeWidth": 2},
       "encoding": {
         "y": {"field": "v", "type": "quantitative", "scale": {"domain": [3, 7.834], "nice": false, "zero": false},
           "axis": {"values": [3,3.5,4,4.5,5,5.5,6,6.5,7,7.5], "format": ".2f", "offset": -38, "labelFontSize": 7, "labelColor": "#444444", "domain": false, "ticks": false, "labelPadding": 3, "labelOverlap": false,
                    "title": "（%）", "titleAngle": 0, "titleX": 2, "titleY": -7, "titleAlign": "center", "titleBaseline": "middle", "titleFontSize": 8, "titleColor": "#777777"}},
         "color": {"field": "s", "type": "nominal", "scale": {"domain": ["名义GDP(周度)", "万得全A(右轴)"], "range": ["#8a8dc6", "#1f2144"]},
           "legend": {"orient": "none", "legendX": 87, "legendY": -10, "direction": "horizontal", "title": null, "symbolType": "stroke", "symbolStrokeWidth": 2.5, "symbolSize": 324, "labelFontSize": 7.5, "labelColor": "#777777", "columnPadding": 11, "labelOffset": 2}}}},
      {"data": {"name": "wind"}, "mark": {"type": "line", "strokeWidth": 2},
       "encoding": {
         "y": {"field": "v", "type": "quantitative", "scale": {"domain": [4500, 7723], "nice": false, "zero": false},
           "axis": {"orient": "right", "values": [4500,5000,5500,6000,6500,7000,7500], "format": ",.0f", "labelFontSize": 7, "labelColor": "#444444", "domain": false, "ticks": false, "labelPadding": 6, "labelOverlap": false,
                    "title": "（点）", "titleAngle": 0, "titleX": -1, "titleY": -7, "titleAlign": "center", "titleBaseline": "middle", "titleFontSize": 8, "titleColor": "#777777"}},
         "color": {"field": "s", "type": "nominal"}}}
     ]},
    {"width": 241, "height": 156,
     "title": {"text": "数据来源：WIND，广发证券发展研究中心", "orient": "bottom", "anchor": "start", "frame": "bounds", "offset": 27, "dx": -2, "fontSize": 9.5, "color": "#333333", "font": "Noto Sans CJK SC"},
     "resolve": {"scale": {"y": "independent"}},
     "encoding": {
       "x": {"field": "d", "type": "temporal", "scale": {"type": "utc", "domain": [{"year": 2025, "month": 8, "date": 15, "utc": true}, {"year": 2026, "month": 8, "date": 15, "utc": true}]},
         "axis": {"values": [
           {"year":2025,"month":8,"date":15,"utc":true},{"year":2025,"month":9,"date":15,"utc":true},{"year":2025,"month":10,"date":15,"utc":true},{"year":2025,"month":11,"date":15,"utc":true},{"year":2025,"month":12,"date":15,"utc":true},
           {"year":2026,"month":1,"date":15,"utc":true},{"year":2026,"month":2,"date":15,"utc":true},{"year":2026,"month":3,"date":15,"utc":true},{"year":2026,"month":4,"date":15,"utc":true},{"year":2026,"month":5,"date":15,"utc":true},
           {"year":2026,"month":6,"date":15,"utc":true},{"year":2026,"month":7,"date":15,"utc":true},{"year":2026,"month":8,"date":15,"utc":true}],
           "format": "%Y/%-m/%-d", "labelAngle": -45, "labelFontSize": 7.5, "labelColor": "#555555", "domainColor": "#999999", "tickColor": "#999999", "tickSize": 3, "title": null, "labelOverlap": false}}
     },
     "layer": [
      {"data": {"values": [{"d": "2026-08-06", "d2": "2026-08-15", "v": 3, "v2": 7.1}]}, "mark": {"type": "rect", "color": "#ebe7f3"},
       "encoding": {"x2": {"field": "d2"}, "y": {"field": "v", "type": "quantitative", "scale": {"domain": [3, 7.5], "nice": false, "zero": false}, "axis": null}, "y2": {"field": "v2"}}},
      {"data": {"name": "gdpw"}, "mark": {"type": "line", "strokeWidth": 2},
       "encoding": {
         "y": {"field": "v", "type": "quantitative", "scale": {"domain": [3, 7.5], "nice": false, "zero": false},
           "axis": {"values": [3,3.5,4,4.5,5,5.5,6,6.5,7,7.5], "format": ".2f", "labelFontSize": 7, "labelColor": "#444444", "domain": false, "ticks": false, "labelPadding": 3, "labelOverlap": false,
                    "title": "（%）", "titleAngle": 0, "titleX": 2, "titleY": -9, "titleAlign": "center", "titleBaseline": "middle", "titleFontSize": 8, "titleColor": "#777777"}},
         "color": {"field": "s", "type": "nominal", "scale": {"domain": ["名义GDP(周度)", "10Y中债利率(右轴)"], "range": ["#8a8dc6", "#1f2144"]},
           "legend": {"orient": "none", "legendX": 42, "legendY": -13, "direction": "horizontal", "title": null, "symbolType": "stroke", "symbolStrokeWidth": 2.5, "symbolSize": 324, "labelFontSize": 7.5, "labelColor": "#777777", "columnPadding": 12, "labelOffset": 2}}}},
      {"data": {"name": "bond"}, "mark": {"type": "line", "strokeWidth": 2},
       "encoding": {
         "y": {"field": "v", "type": "quantitative", "scale": {"domain": [1.6, 2.0], "nice": false, "zero": false},
           "axis": {"orient": "right", "values": [1.6,1.65,1.7,1.75,1.8,1.85,1.9,1.95,2.0], "format": ".2f", "labelFontSize": 7, "labelColor": "#444444", "domain": false, "ticks": false, "labelPadding": 6, "labelOverlap": false,
                    "title": "（%）", "titleAngle": 0, "titleX": -7, "titleY": -4, "titleAlign": "center", "titleBaseline": "middle", "titleFontSize": 8, "titleColor": "#777777"}},
         "color": {"field": "s", "type": "nominal"}}}
     ]}
  ]}
 ]}
]
}
